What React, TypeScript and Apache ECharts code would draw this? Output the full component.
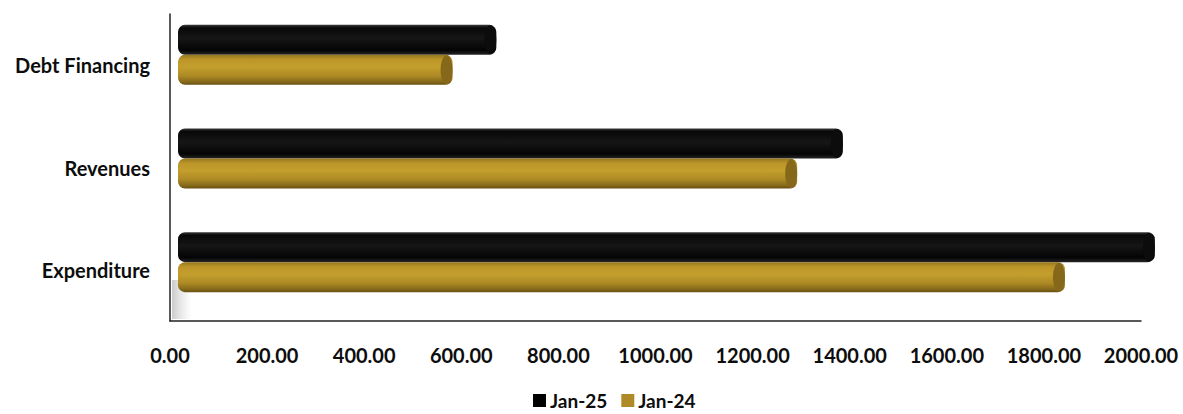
import React, { useEffect, useRef } from "react";
import * as echarts from "echarts";

const categories = ["Debt Financing", "Revenues", "Expenditure"];
const seriesNames = ["Jan-25", "Jan-24"];
const jan25 = [655, 1368, 2010];
const jan24 = [565, 1274, 1825];
const xTicks = { min: 0, max: 2000, interval: 200 };

const FONT = "Lato";

const blackFill = {
  type: "linear", x: 0, y: 0, x2: 0, y2: 1,
  colorStops: [
    { offset: 0, color: "#3a3a3a" },
    { offset: 0.1, color: "#080808" },
    { offset: 0.45, color: "#161616" },
    { offset: 0.85, color: "#040404" },
    { offset: 1, color: "#262626" },
  ],
};
const goldFill = {
  type: "linear", x: 0, y: 0, x2: 0, y2: 1,
  colorStops: [
    { offset: 0, color: "#94761e" },
    { offset: 0.15, color: "#bb9528" },
    { offset: 0.4, color: "#c49f2d" },
    { offset: 0.7, color: "#ad8a25" },
    { offset: 0.9, color: "#86691a" },
    { offset: 1, color: "#675011" },
  ],
};

function makeRender(offset: number, fill: any, capColor: string) {
  return (params: any, api: any) => {
    const val = api.value(0);
    const ci = api.value(1);
    const p0 = api.coord([0, ci]);
    const p1 = api.coord([val, ci]);
    const h = 30;
    const yc = p0[1] + offset;
    const top = yc - h / 2;
    const w = p1[0] - p0[0];
    return {
      type: "group",
      children: [
        {
          type: "rect",
          shape: { x: p0[0], y: top, width: w, height: h, r: [7, 7, 7, 7] },
          style: { fill },
        },
        {
          type: "ellipse",
          shape: { cx: p1[0] - 6, cy: yc, rx: 6, ry: h / 2 - 0.5 },
          style: { fill: capColor },
        },
      ],
    };
  };
}

export default function App() {
  const ref = useRef<HTMLDivElement>(null);
  useEffect(() => {
    if (!ref.current) return;
    const chart = echarts.init(ref.current, undefined, { renderer: "svg" });
    const labelStyle = { fontFamily: FONT, fontWeight: "bold", fontSize: 20, color: "#0d0d0d" };
    chart.setOption({
      animation: false,
      textStyle: { fontFamily: FONT },
      grid: [
        { left: 170, right: 42, top: 14, bottom: 93 },
        { left: 178, width: 972, top: 3, height: 311 },
      ],
      xAxis: [
        {
          gridIndex: 0, type: "value", min: xTicks.min, max: xTicks.max, interval: xTicks.interval,
          axisLine: { show: true, lineStyle: { color: "#222", width: 1.5 } },
          axisTick: { show: false },
          splitLine: { show: false },
          axisLabel: { ...labelStyle, margin: 24, formatter: (v: number) => v.toFixed(2) },
        },
        {
          gridIndex: 1, type: "value", min: xTicks.min, max: xTicks.max, show: false,
        },
      ],
      yAxis: [
        {
          gridIndex: 0, type: "category", data: categories, inverse: true,
          axisLine: { show: true, lineStyle: { color: "#222", width: 1.5 } },
          axisTick: { show: false },
          axisLabel: { ...labelStyle, margin: 20 },
        },
        {
          gridIndex: 1, type: "category", data: categories, inverse: true, show: false,
        },
      ],
      legend: {
        data: seriesNames,
        left: 531, top: 389, padding: 2,
        icon: "rect", itemWidth: 13, itemHeight: 13, itemGap: 14,
        textStyle: { fontFamily: FONT, fontWeight: "bold", fontSize: 19, color: "#0d0d0d", padding: [0, 0, 0, -1] },
      },
      graphic: [
        {
          type: "rect", z: 0,
          shape: { x: 172, y: 280, width: 22, height: 39 },
          style: {
            fill: {
              type: "linear", x: 0, y: 0, x2: 1, y2: 0,
              colorStops: [
                { offset: 0, color: "rgba(150,150,150,0.5)" },
                { offset: 0.6, color: "rgba(200,200,200,0.25)" },
                { offset: 1, color: "rgba(255,255,255,0)" },
              ],
            },
          },
        },
      ],
      series: [
        {
          name: seriesNames[0], type: "custom", xAxisIndex: 1, yAxisIndex: 1,
          itemStyle: { color: "#000000" },
          encode: { x: 0, y: 1 },
          data: jan25.map((v, i) => [v, i]),
          renderItem: makeRender(-15, blackFill, "#0c0c0c"),
          clip: false,
        },
        {
          name: seriesNames[1], type: "custom", xAxisIndex: 1, yAxisIndex: 1,
          itemStyle: { color: "#b08a26" },
          encode: { x: 0, y: 1 },
          data: jan24.map((v, i) => [v, i]),
          renderItem: makeRender(15, goldFill, "#85681a"),
          clip: false,
        },
      ],
    });
    return () => chart.dispose();
  }, []);
  return (
    <div
      ref={ref}
      style={{ position: "fixed", left: 0, top: 0, width: 1183, height: 414, background: "#fff" }}
    />
  );
}
